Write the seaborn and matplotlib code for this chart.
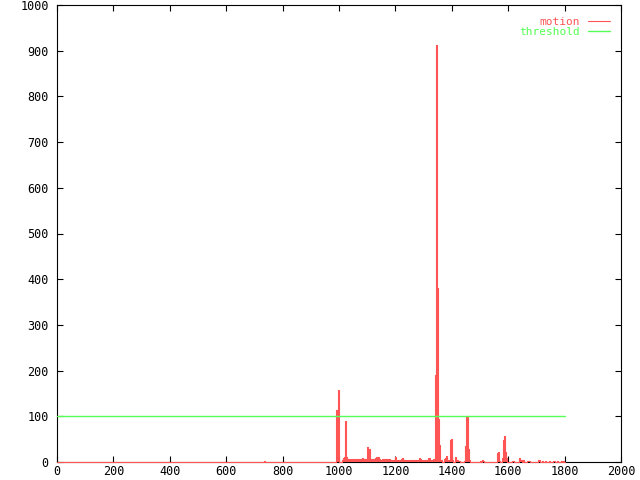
import matplotlib
matplotlib.use("Agg")
import matplotlib.pyplot as plt
import numpy as np
import pandas as pd
import seaborn as sns

# motion: step series, each value holds from its x until the next x
motion_x = [
    0, 734, 738, 989, 997, 1000, 1011, 1014, 1018, 1021, 1025, 1028, 1032,
    1035, 1039, 1042, 1046, 1049, 1053, 1056, 1060, 1081, 1085, 1095, 1099,
    1102, 1106, 1110, 1127, 1131, 1134, 1138, 1141, 1145, 1152, 1159, 1163,
    1170, 1173, 1180, 1198, 1202, 1205, 1219, 1223, 1226, 1244, 1248, 1283,
    1287, 1290, 1297, 1301, 1315, 1322, 1326, 1329, 1333, 1336, 1340, 1344,
    1347, 1351, 1354, 1358, 1365, 1372, 1376, 1379, 1383, 1394, 1398, 1401,
    1404, 1411, 1415, 1422, 1429, 1443, 1448, 1451, 1456, 1461, 1465, 1500,
    1504, 1506, 1510, 1514, 1559, 1563, 1567, 1571, 1577, 1580, 1584, 1589,
    1592, 1597, 1612, 1622, 1640, 1643, 1649, 1654, 1657, 1666, 1677, 1707,
    1711, 1714, 1719, 1723, 1731, 1735, 1743, 1747, 1758, 1766, 1772, 1776,
    1787, 1790, 1793, 1797, 1800,
]
motion_y = [
    0, 3, 0, 114, 158, 0, 4, 8, 11, 90, 12, 3, 6,
    4, 6, 4, 6, 4, 6, 4, 6, 8, 6, 4, 33,
    10, 28, 6, 8, 10, 8, 11, 6, 4, 6, 4, 6,
    4, 6, 4, 10, 5, 4, 6, 8, 4, 2, 4, 8,
    6, 4, 2, 4, 8, 4, 2, 4, 6, 4, 190, 912,
    380, 93, 37, 4, 0, 6, 9, 13, 4, 48, 50, 4,
    0, 10, 5, 3, 0, 3, 35, 100, 29, 4, 0, 3,
    0, 4, 2, 0, 20, 22, 3, 1, 8, 48, 57, 22,
    8, 0, 3, 0, 8, 4, 0, 4, 0, 3, 0, 5,
    4, 0, 3, 0, 3, 0, 3, 0, 3, 0, 3, 0,
    3, 0, 3, 0, 0,
]

threshold_x = [0, 1800]
threshold_y = [100, 100]

red = "#ff5555"
green = "#55ff55"

sns.set_style("white")
plt.rcParams["font.family"] = ["DejaVu Sans Mono"]
plt.rcParams["font.size"] = 8.5

df_motion = pd.DataFrame({"x": motion_x, "y": motion_y})
df_thr = pd.DataFrame({"x": threshold_x, "y": threshold_y})

fig, ax = plt.subplots(figsize=(6.4, 4.8), dpi=100)
fig.subplots_adjust(left=57 / 640, right=621 / 640, top=1 - 5 / 480, bottom=1 - 462 / 480)

ax.fill_between(df_motion["x"], df_motion["y"], step="post", color=red, linewidth=0, zorder=3)
sns.lineplot(data=df_motion, x="x", y="y", ax=ax, color=red, linewidth=0.8,
             drawstyle="steps-post", estimator=None, sort=False, label="motion",
             zorder=3, clip_on=False)
sns.lineplot(data=df_thr, x="x", y="y", ax=ax, color=green, linewidth=1.0,
             estimator=None, label="threshold", zorder=4)

ax.set_xlim(0, 2000)
ax.set_ylim(0, 1000)
ax.set_xticks(np.arange(0, 2001, 200))
ax.set_yticks(np.arange(0, 1001, 100))
ax.set_xlabel("")
ax.set_ylabel("")
ax.tick_params(direction="in", length=4, width=0.8, top=True, right=True,
               bottom=True, left=True, colors="black")
ax.tick_params(axis="x", pad=2)
ax.tick_params(axis="y", pad=6)
for s in ax.spines.values():
    s.set_color("black")
    s.set_linewidth(0.8)

leg = ax.legend(loc="upper right", frameon=False, markerfirst=False,
                labelcolor="linecolor", handlelength=2.0, handletextpad=0.7,
                borderaxespad=0, borderpad=0, labelspacing=0.0,
                fontsize=8, bbox_to_anchor=(0.9805, 0.973))

fig.savefig("out.png", dpi=100)
